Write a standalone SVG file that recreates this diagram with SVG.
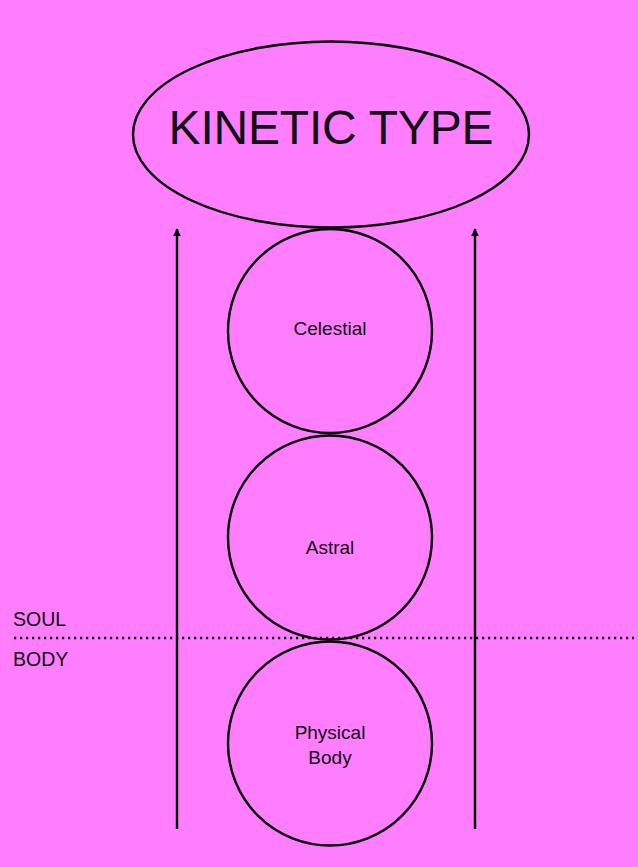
<svg xmlns="http://www.w3.org/2000/svg" width="638" height="867" viewBox="0 0 638 867">
<style>
.shape{fill:none;stroke:#000;stroke-width:2.4}
.lbl{font-family:"Liberation Sans",Arial,sans-serif;fill:#111;text-anchor:middle;font-size:19px}
.side{font-family:"Liberation Sans",Arial,sans-serif;fill:#111;font-size:19.5px}
.arrow{stroke:#000;stroke-width:2.4;fill:none}
</style>
<defs>
<marker id="ah" viewBox="0 0 10 10" refX="9" refY="5" markerWidth="3.6" markerHeight="3.2" orient="auto" markerUnits="strokeWidth">
<path d="M0,0 L10,5 L0,10 z" fill="#000"/>
</marker>
</defs>
<rect width="638" height="867" fill="#ff7dff"/>
<g id="connectors">
<line class="arrow" x1="177" y1="829" x2="177" y2="229" marker-end="url(#ah)"/>
<line class="arrow" x1="475" y1="829" x2="475" y2="229" marker-end="url(#ah)"/>
<line x1="14" y1="638" x2="634" y2="638" stroke="#000" stroke-width="2.4" stroke-dasharray="2.2 3.8"/>
</g>
<g id="kinetic-type">
<ellipse class="shape" cx="331" cy="134.5" rx="198" ry="93"/>
<text class="lbl" x="331" y="144" style="font-size:48px" letter-spacing="-0.2">KINETIC TYPE</text>
</g>
<g id="celestial">
<circle class="shape" cx="330" cy="331" r="102"/>
<text class="lbl" x="330" y="335">Celestial</text>
</g>
<g id="astral">
<circle class="shape" cx="330" cy="537.5" r="102"/>
<text class="lbl" x="330" y="554">Astral</text>
</g>
<g id="physical-body">
<circle class="shape" cx="330" cy="743.5" r="102"/>
<text class="lbl" x="330" y="739">Physical</text>
<text class="lbl" x="330" y="764">Body</text>
</g>
<g id="soul-label"><text class="side" x="13" y="626">SOUL</text></g>
<g id="body-label"><text class="side" x="13" y="666">BODY</text></g>
</svg>
